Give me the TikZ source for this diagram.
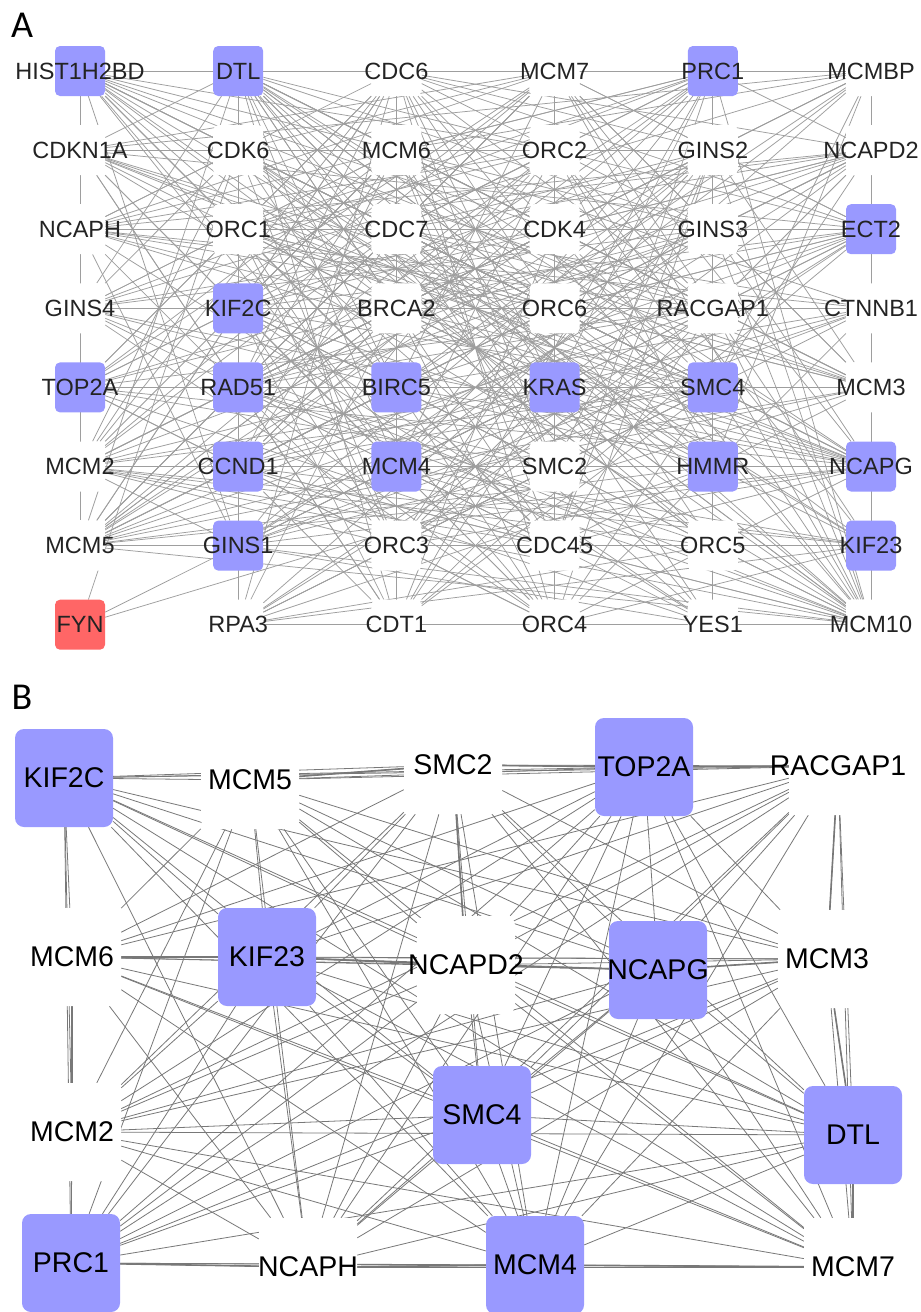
\documentclass[tikz,border=0pt]{standalone}
\usepackage{fontspec}
\setmainfont{Liberation Sans}
\newfontfamily\labfont{Carlito}
\pgfdeclarelayer{edges}
\pgfsetlayers{edges,main}
\definecolor{hub}{RGB}{153,153,255}
\definecolor{fynred}{RGB}{255,102,102}
\definecolor{edgeA}{RGB}{158,158,158}
\definecolor{edgeB}{RGB}{120,120,120}
\definecolor{txt}{RGB}{35,35,35}
\tikzset{
  nA/.style={rectangle, rounded corners=5pt, minimum size=50pt, inner sep=0pt, font=\fontsize{23.5}{23.5}\selectfont, text=txt},
  nB/.style={rectangle, rounded corners=9pt, minimum size=98pt, inner sep=0pt, font=\fontsize{28.5}{28.5}\selectfont, text=black},
  eA/.style={draw=edgeA, line width=0.75pt},
  eB/.style={draw=edgeB, line width=0.8pt},
  eBB/.style={draw=edgeB, line width=1.6pt},
  panel/.style={font=\labfont\fontsize{38}{38}\selectfont, text=black}
}
\begin{document}
\begin{tikzpicture}[x=1pt,y=-1pt]
\useasboundingbox (0,0) rectangle (921,1312);
% ---------- panel A nodes ----------
\foreach \t/\f [count=\k from 0] in {
  HIST1H2BD/hub, DTL/hub, CDC6/white, MCM7/white, PRC1/hub, MCMBP/white,
  CDKN1A/white, CDK6/white, MCM6/white, ORC2/white, GINS2/white, NCAPD2/white,
  NCAPH/white, ORC1/white, CDC7/white, CDK4/white, GINS3/white, ECT2/hub,
  GINS4/white, KIF2C/hub, BRCA2/white, ORC6/white, RACGAP1/white, CTNNB1/white,
  TOP2A/hub, RAD51/hub, BIRC5/hub, KRAS/hub, SMC4/hub, MCM3/white,
  MCM2/white, CCND1/hub, MCM4/hub, SMC2/white, HMMR/hub, NCAPG/hub,
  MCM5/white, GINS1/hub, ORC3/white, CDC45/white, ORC5/white, KIF23/hub,
  FYN/fynred, RPA3/white, CDT1/white, ORC4/white, YES1/white, MCM10/white}
{
  \pgfmathsetmacro\cx{80+158.2*mod(\k,6)}
  \pgfmathsetmacro\cy{71+79.1*div(\k,6)}
  \node[nA, fill=\f] (a\k) at (\cx,\cy) {\makebox[0pt]{\t}};
}
% ---------- panel B nodes ----------
\foreach \t/\f/\x/\y [count=\k] in {
  KIF2C/hub/64/778, MCM5/white/250/780, SMC2/white/453/765, TOP2A/hub/644/767,
  RACGAP1/white/838/766, MCM6/white/72/957, KIF23/hub/267/957, NCAPD2/white/466/965,
  NCAPG/hub/658/970, MCM3/white/827/959, MCM2/white/72/1132, SMC4/hub/482/1115,
  DTL/hub/853/1135, PRC1/hub/71/1263, NCAPH/white/308/1267, MCM4/hub/535/1265,
  MCM7/white/853/1267}
{
  \node[nB, fill=\f] (b\k) at (\x,\y) {\makebox[0pt]{\t}};
}
\node[panel] (labA) at (22,25) {A};
\node[panel] (labB) at (22,697) {B};
% ---------- edges ----------
\begin{pgfonlayer}{edges}
\fill[white] (0,0) rectangle (921,1312);
\pgfmathsetmacro\sc{1.18}
\pgfmathsetseed{11}
\def\W{{0.55,0.7,0.7,0.7,0.65,0.5,
        0.45,0.55,0.75,0.7,0.6,0.55,
        0.55,0.7,0.75,0.6,0.6,0.45,
        0.5,0.65,0.7,0.7,0.6,0.35,
        0.65,0.75,0.7,0.5,0.65,0.7,
        0.75,0.7,0.75,0.6,0.55,0.6,
        0.7,0.6,0.6,0.7,0.55,0.55,
        0.15,0.55,0.6,0.55,0.2,0.85}}
\foreach \i in {0,...,46}{
  \pgfmathtruncatemacro\js{\i+1}
  \foreach \j in {\js,...,47}{
    \pgfmathtruncatemacro\ok{rnd<\sc*\W[\i]*\W[\j]}
    \ifnum\ok=1 \draw[eA] (a\i) -- (a\j);\fi
  }
}
\foreach \i in {1,...,16}{
  \pgfmathtruncatemacro\js{\i+1}
  \foreach \j in {\js,...,17}{
    \draw[eB] (b\i) -- (b\j);
  }
}
\foreach \i/\j in {2/3, 3/4, 4/5, 6/11, 5/10, 10/13, 13/17, 6/7, 7/8, 8/9, 9/10, 14/15, 15/16, 16/17, 3/8}{
  \draw[eBB] (b\i) -- (b\j);
}
\end{pgfonlayer}
\end{tikzpicture}
\end{document}
